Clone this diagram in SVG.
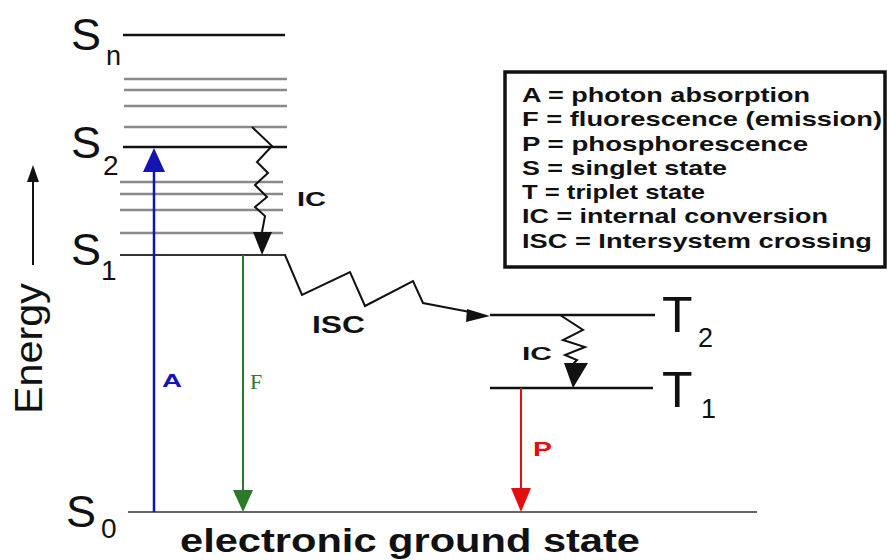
<svg xmlns="http://www.w3.org/2000/svg" width="887" height="560" viewBox="0 0 887 560">
<style>
.lvl{stroke:#111;stroke-width:2.5;fill:none}
.sub{stroke:#8a8a8a;stroke-width:2.5;fill:none}
.zig{stroke:#111;stroke-width:2;fill:none;stroke-linejoin:miter}
.big{font-family:"Liberation Sans",Arial,sans-serif;fill:#111}
.lg{font-family:"Liberation Sans",Arial,sans-serif;font-weight:bold;font-size:21px;fill:#111}
.bl{font-family:"Liberation Sans",Arial,sans-serif;font-weight:bold;fill:#111}
</style>
<rect width="887" height="560" fill="#fff"/>
<g id="levels">
<line class="lvl" x1="123" y1="35" x2="285" y2="35"/>
<line class="sub" x1="124" y1="79" x2="287" y2="79"/>
<line class="sub" x1="124" y1="90" x2="287" y2="90"/>
<line class="sub" x1="124" y1="106" x2="287" y2="106"/>
<line class="sub" x1="124" y1="127" x2="287" y2="127"/>
<line class="lvl" x1="123" y1="147" x2="287" y2="147"/>
<line class="sub" x1="120" y1="182" x2="283" y2="182"/>
<line class="sub" x1="120" y1="194" x2="283" y2="194"/>
<line class="sub" x1="120" y1="210" x2="283" y2="210"/>
<line class="sub" x1="120" y1="233" x2="283" y2="233"/>
<line class="lvl" x1="120" y1="255" x2="286" y2="255" style="stroke:#333;stroke-width:2"/>
<line class="lvl" x1="128" y1="512" x2="757" y2="512" style="stroke:#333;stroke-width:1.5"/>
<line class="lvl" x1="490" y1="315" x2="655" y2="315"/>
<line class="lvl" x1="490" y1="388" x2="653" y2="388"/>
</g>
<g id="state-labels" class="big">
<text x="71" y="50" font-size="45">S</text><text x="106" y="65" font-size="27">n</text>
<text x="71" y="158" font-size="45">S</text><text x="103" y="175" font-size="28">2</text>
<text x="71" y="265" font-size="45">S</text><text x="101" y="280" font-size="28">1</text>
<text x="66" y="527" font-size="45">S</text><text x="101" y="538" font-size="28">0</text>
<text x="662" y="332" font-size="50">T</text><text x="698" y="347" font-size="27">2</text>
<text x="662" y="407" font-size="50">T</text><text x="701" y="418" font-size="27">1</text>
</g>
<g id="energy-axis">
<line x1="33" y1="265" x2="33" y2="180" stroke="#111" stroke-width="2"/>
<polygon points="33,165 27,182 39,182" fill="#111"/>
<text class="big" transform="translate(42,414) rotate(-90)" font-size="38" textLength="131" lengthAdjust="spacingAndGlyphs">Energy</text>
</g>
<g id="connectors">
<g id="absorption">
<line x1="154" y1="512" x2="154" y2="168" stroke="#1414b4" stroke-width="2.5"/>
<polygon points="154,148 143,172 165,172" fill="#1414b4"/>
</g>
<g id="fluorescence">
<line x1="243" y1="255" x2="243" y2="494" stroke="#2a7a2a" stroke-width="2"/>
<polygon points="243,512 233,490 253,490" fill="#2a7a2a"/>
</g>
<g id="phosphorescence">
<line x1="521" y1="388" x2="521" y2="492" stroke="#e01010" stroke-width="2"/>
<polygon points="521,512 511,488 531,488" fill="#e01010"/>
</g>
<g id="ic-s">
<polyline class="zig" points="252,127 272,146 257,162 268,173 255,185 267,197 255,207 265,216 262,232"/>
<polygon points="262,255 253,232 272,232" fill="#111"/>
</g>
<g id="isc">
<polyline class="zig" points="285,255 302,295 350,272 365,306 413,281 423,303 470,312"/>
<polygon points="490,316 467,309 466,322" fill="#111"/>
</g>
<g id="ic-t">
<polyline class="zig" points="560,315 583,330 563,340 585,347 565,355 577,360 573,364"/>
<polygon points="573,388 564,363 588,363" fill="#111"/>
</g>
</g>
<g id="process-labels">
<text class="bl" x="162" y="387" font-size="19" style="fill:#1414b4" textLength="20" lengthAdjust="spacingAndGlyphs">A</text>
<text x="250" y="389" font-family="Liberation Serif,serif" font-size="22" fill="#2a7a2a">F</text>
<text class="bl" x="533" y="456" font-size="20" style="fill:#e01010" textLength="19" lengthAdjust="spacingAndGlyphs">P</text>
<text class="bl" x="297" y="206" font-size="20" textLength="29" lengthAdjust="spacingAndGlyphs">IC</text>
<text class="bl" x="522" y="360" font-size="19" textLength="30" lengthAdjust="spacingAndGlyphs">IC</text>
<text class="bl" x="312" y="333" font-size="24" textLength="53" lengthAdjust="spacingAndGlyphs">ISC</text>
</g>
<g id="legend">
<rect x="505" y="72" width="380" height="195" fill="#fff" stroke="#111" stroke-width="3.5"/>
<text class="lg" x="522" y="102" textLength="288" lengthAdjust="spacingAndGlyphs">A = photon absorption</text>
<text class="lg" x="522" y="126" textLength="360" lengthAdjust="spacingAndGlyphs">F = fluorescence (emission)</text>
<text class="lg" x="522" y="151" textLength="286" lengthAdjust="spacingAndGlyphs">P = phosphorescence</text>
<text class="lg" x="522" y="175" textLength="205" lengthAdjust="spacingAndGlyphs">S = singlet state</text>
<text class="lg" x="522" y="199" textLength="183" lengthAdjust="spacingAndGlyphs">T = triplet state</text>
<text class="lg" x="522" y="223" textLength="306" lengthAdjust="spacingAndGlyphs">IC = internal conversion</text>
<text class="lg" x="522" y="248" textLength="350" lengthAdjust="spacingAndGlyphs">ISC = Intersystem crossing</text>
</g>
<g id="ground-label">
<text class="bl" x="180" y="552" font-size="34" textLength="460" lengthAdjust="spacingAndGlyphs">electronic ground state</text>
</g>
</svg>
